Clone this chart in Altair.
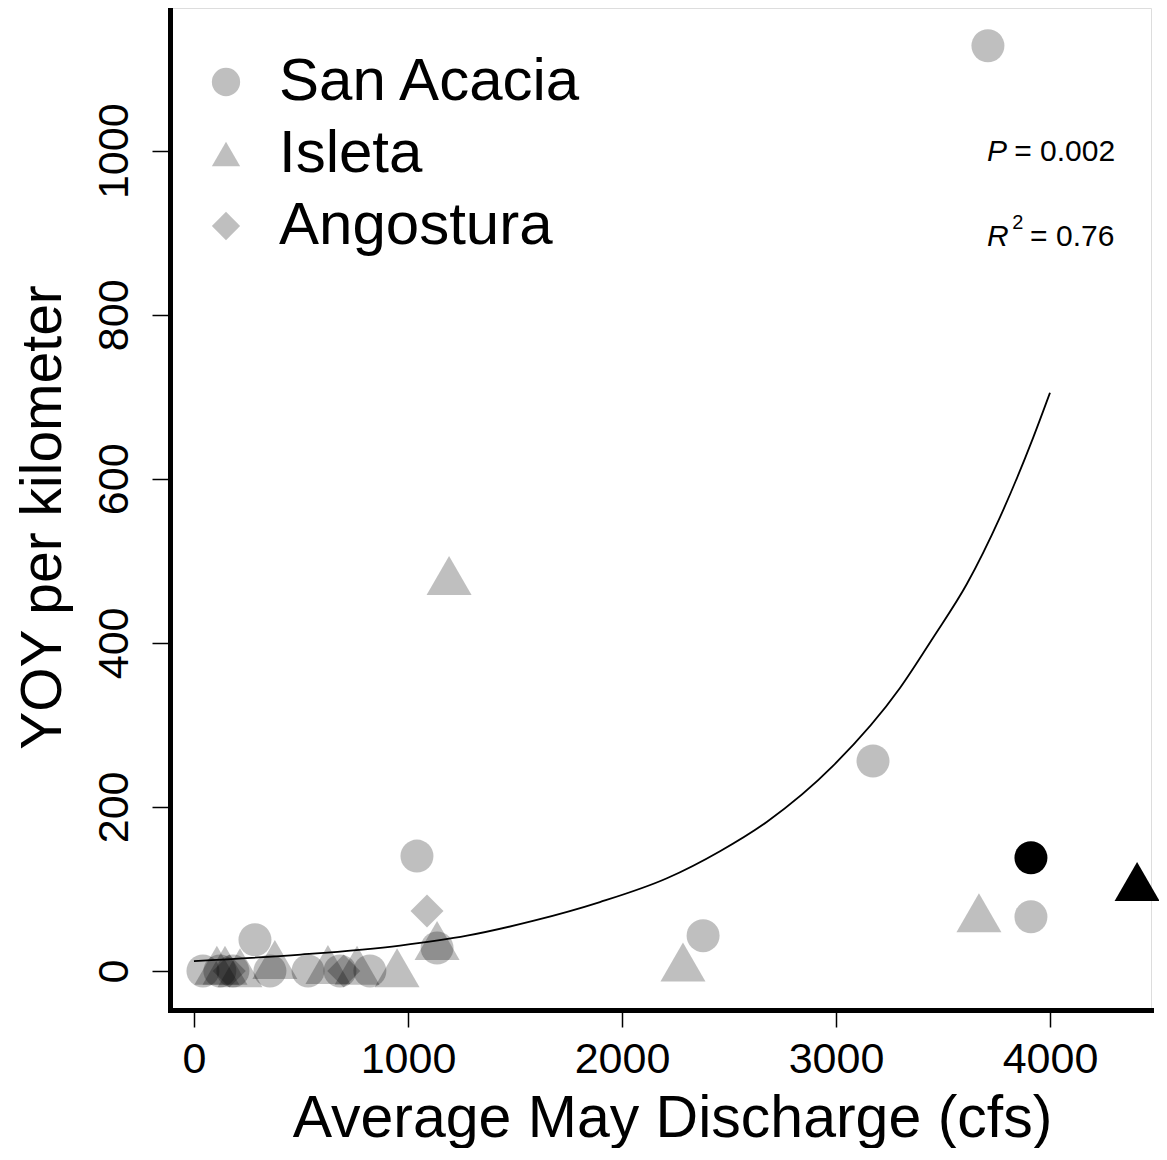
import altair as alt
import pandas as pd

# ---- data ----
sa_x = [42, 121, 182, 285, 355, 533, 682, 822, 1042, 1136, 2379, 3173, 3710, 3911]
sa_y = [0, 0, 0, 38, 0, 0, 0, 0, 140, 28, 43, 256, 1128, 66]

is_x = [107, 145, 215, 378, 626, 762, 949, 1136, 1192, 2285, 3668]
is_y = [7, 7, 4, 14, 8, 7, 4, 37, 482, 11, 71]

an_x = [165, 700, 1089]
an_y = [0, 0, 73]

hl_site = ["San Acacia", "Isleta"]
hl_x = [3911, 4407]
hl_y = [138, 109]

curve_x = [0, 500, 963, 1276, 1584, 1897, 2210, 2458, 2678, 2986, 3299, 3453, 3612, 3766, 3921, 4000]
curve_y = [12, 20, 31, 43, 61, 84, 113, 146, 182, 250, 345, 406, 472, 553, 650, 705]

sites = ["San Acacia", "Isleta", "Angostura"]
shapes = ["circle", "triangle-up", "diamond"]
sizes = [1089, 2025, 1089]
alphas = [0.25, 0.25, 0.25]

x_ticks = [0, 1000, 2000, 3000, 4000]
y_ticks = [0, 200, 400, 600, 800, 1000]

ital_text = ["P", "R"]
ital_x = [3706, 3706]
ital_y = [987, 884]
norm_text = ["= 0.002", "= 0.76"]
norm_x = [3833, 3907]
norm_y = [987, 884]
sup_text = ["2"]
sup_x = [3824]
sup_y = [904]

FONT = "Liberation Sans"

# ---- tables ----
pts = pd.DataFrame(
    {"site": ["San Acacia"] * len(sa_x) + ["Isleta"] * len(is_x) + ["Angostura"] * len(an_x),
     "q": sa_x + is_x + an_x,
     "yoy": sa_y + is_y + an_y}
)
pts["sz"] = pts["site"].map(dict(zip(sites, sizes)))
hl = pd.DataFrame({"site": hl_site, "q": hl_x, "yoy": hl_y})
hl["sz"] = hl["site"].map(dict(zip(sites, sizes)))
curve = pd.DataFrame({"q": curve_x, "yoy": curve_y})
ital = pd.DataFrame({"t": ital_text, "q": ital_x, "yoy": ital_y})
norm = pd.DataFrame({"t": norm_text, "q": norm_x, "yoy": norm_y})
sup = pd.DataFrame({"t": sup_text, "q": sup_x, "yoy": sup_y})

xscale = alt.Scale(domain=[-112, 4472], nice=False, zero=False)
yscale = alt.Scale(domain=[-47.6, 1174], nice=False, zero=False)

xaxis = alt.Axis(
    values=x_ticks, format="d", title="Average May Discharge (cfs)", grid=False,
    domainColor="black", domainWidth=5, domainCap="square",
    tickColor="black", tickSize=17, tickWidth=1.5,
    labelFontSize=43, labelFont=FONT, labelColor="black", labelPadding=11,
    labelFlush=False, labelOverlap=False,
    titleFontSize=59, titleFont=FONT, titleFontWeight="normal", titleColor="black",
    titleBaseline="alphabetic", titleY=126, titleX=502, titleAlign="center",
)
yaxis = alt.Axis(
    values=y_ticks, format="d", title="YOY per kilometer", grid=False,
    domainColor="black", domainWidth=5, domainCap="square",
    tickColor="black", tickSize=18, tickWidth=1.5,
    labelFontSize=43, labelFont=FONT, labelColor="black", labelPadding=25,
    labelAngle=270, labelAlign="center", labelBaseline="alphabetic",
    labelFlush=False, labelOverlap=False,
    titleFontSize=57, titleFont=FONT, titleFontWeight="normal", titleColor="black",
    titleAngle=270, titleBaseline="alphabetic", titleX=-110, titleY=509, titleAlign="center",
)

legend = alt.Legend(
    orient="none", legendX=26, legendY=44, title=None,
    labelFontSize=60, labelFont=FONT, labelColor="black", labelLimit=0,
    symbolSize=800, labelOffset=23, rowPadding=12, padding=0,
    symbolStrokeWidth=0,
)

shape_scale = alt.Scale(domain=sites, range=shapes)
alpha_scale = alt.Scale(domain=sites, range=alphas)

points = alt.Chart(pts).mark_point(filled=True, color="black", strokeWidth=0).encode(
    x=alt.X("q:Q", scale=xscale, axis=xaxis),
    y=alt.Y("yoy:Q", scale=yscale, axis=yaxis),
    shape=alt.Shape("site:N", scale=shape_scale, legend=legend),
    opacity=alt.Opacity("site:N", scale=alpha_scale, legend=legend),
    size=alt.Size("sz:Q", scale=None, legend=None),
)

highlight = alt.Chart(hl).mark_point(filled=True, color="black", opacity=1, strokeWidth=0).encode(
    x=alt.X("q:Q", scale=xscale),
    y=alt.Y("yoy:Q", scale=yscale),
    shape=alt.Shape("site:N", scale=shape_scale, legend=None),
    size=alt.Size("sz:Q", scale=None, legend=None),
)

line = alt.Chart(curve).mark_line(color="black", strokeWidth=1.8, interpolate="monotone").encode(
    x=alt.X("q:Q", scale=xscale),
    y=alt.Y("yoy:Q", scale=yscale),
)

t_ital = alt.Chart(ital).mark_text(align="left", baseline="alphabetic", fontSize=30,
                                   font=FONT, fontStyle="italic", color="black").encode(
    x=alt.X("q:Q", scale=xscale), y=alt.Y("yoy:Q", scale=yscale), text="t:N")
t_norm = alt.Chart(norm).mark_text(align="left", baseline="alphabetic", fontSize=30,
                                   font=FONT, color="black").encode(
    x=alt.X("q:Q", scale=xscale), y=alt.Y("yoy:Q", scale=yscale), text="t:N")
t_sup = alt.Chart(sup).mark_text(align="left", baseline="alphabetic", fontSize=20,
                                 font=FONT, color="black").encode(
    x=alt.X("q:Q", scale=xscale), y=alt.Y("yoy:Q", scale=yscale), text="t:N")

chart = alt.layer(line, points, highlight, t_ital, t_norm, t_sup).properties(
    width=981, height=1002,
    autosize=alt.AutoSizeParams(type="none"),
    padding={"left": 162, "top": 0, "right": 8, "bottom": 138},
).configure_view(stroke=None).configure(font=FONT, background="white")

chart.save("out.html", embed_options={"renderer": "svg", "actions": False})
